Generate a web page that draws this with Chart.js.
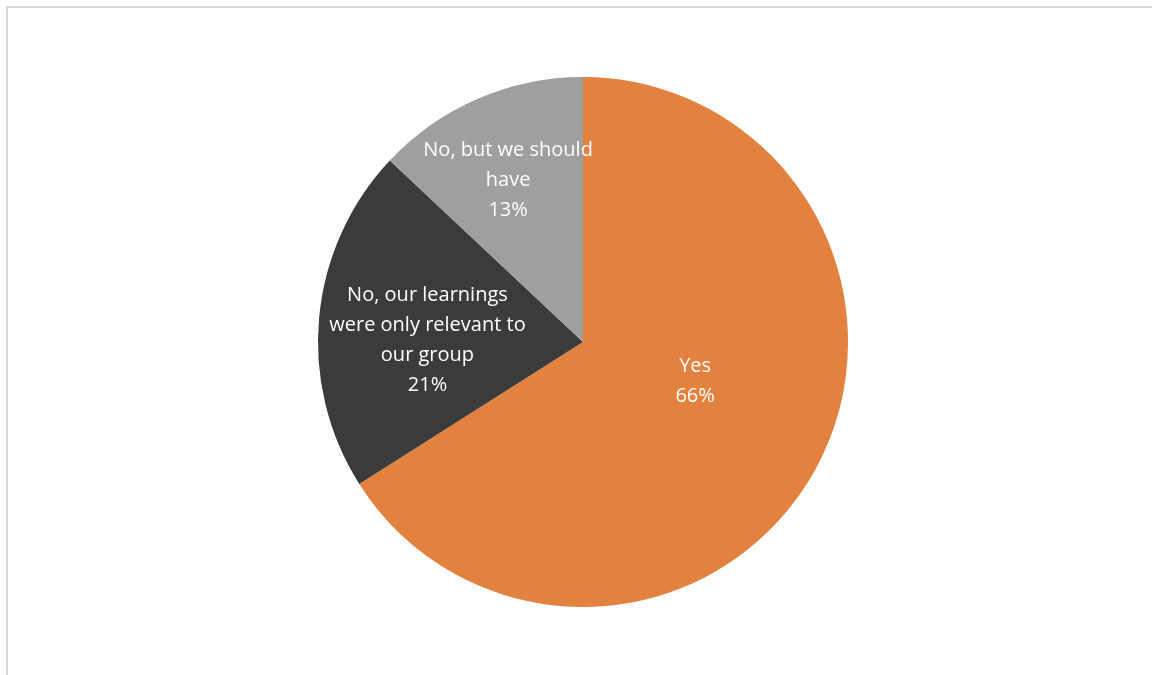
<!DOCTYPE html>
<html>
<head>
<meta charset="utf-8">
<script src="https://cdn.jsdelivr.net/npm/chart.js@4.4.1/dist/chart.umd.min.js"></script>
<style>
  html, body { margin: 0; padding: 0; background: #ffffff; overflow: hidden; }
  #wrap { position: relative; width: 1152px; height: 675px; }
  #frame { position: absolute; left: 6px; top: 6px; width: 1170px; height: 700px;
           border: 2px solid #dadada; box-sizing: border-box; pointer-events: none; }
  canvas { position: absolute; left: 0; top: 0; }
</style>
</head>
<body>
<div id="wrap">
  <canvas id="chart" width="1152" height="675"></canvas>
  <div id="frame"></div>
</div>
<script>
// Survey answers, wrapped as they appear inside the slices
const categories = [
  ["Yes"],
  ["No, our learnings", "were only relevant to", "our group"],
  ["No, but we should", "have"]
];
const shares = [66, 21, 13];
const sliceColors = ["#e3813f", "#3b3b3b", "#9f9f9f"];

// Writes each category name and its share inside its slice
const sliceLabels = {
  id: "sliceLabels",
  afterDatasetsDraw(chart, args, opts) {
    const ctx = chart.ctx;
    const meta = chart.getDatasetMeta(0);
    const data = chart.data.datasets[0].data;
    ctx.save();
    ctx.fillStyle = opts.color;
    ctx.font = opts.font;
    ctx.textAlign = "center";
    ctx.textBaseline = "middle";
    meta.data.forEach((arc, i) => {
      const p = arc.getProps(["x", "y", "startAngle", "endAngle", "outerRadius"], true);
      const place = opts.placement[i];
      const a = (p.startAngle + p.endAngle) / 2 + place.shift * Math.PI / 180;
      const r = p.outerRadius * place.radius;
      const cx = p.x + Math.cos(a) * r;
      const cy = p.y + Math.sin(a) * r;
      const lines = [...chart.data.labels[i], data[i] + "%"];
      const top = cy - (lines.length - 1) * opts.lineHeight / 2;
      lines.forEach((ln, k) => ctx.fillText(ln, cx, top + k * opts.lineHeight));
    });
    ctx.restore();
  }
};

new Chart(document.getElementById("chart"), {
  type: "pie",
  data: {
    labels: categories,
    datasets: [{
      data: shares,
      backgroundColor: sliceColors,
      borderWidth: 0
    }]
  },
  options: {
    responsive: false,
    animation: false,
    rotation: 0,
    layout: { padding: { top: 77, bottom: 68, left: 318, right: 304 } },
    plugins: {
      legend: { display: false },
      tooltip: { enabled: false },
      sliceLabels: {
        color: "#ffffff",
        font: "20px 'Open Sans', sans-serif",
        lineHeight: 30,
        placement: [
          { shift: -9.6, radius: 0.448 },
          { shift: -4.7, radius: 0.587 },
          { shift: -1.4, radius: 0.674 }
        ]
      }
    }
  },
  plugins: [sliceLabels]
});
</script>
</body>
</html>
